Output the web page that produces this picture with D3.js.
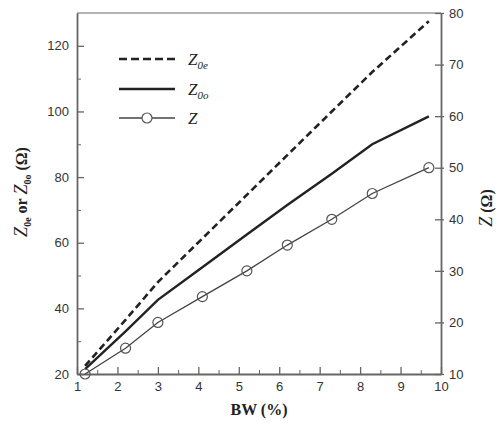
<!DOCTYPE html>
<html>
<head>
<meta charset="utf-8">
<script src="https://cdn.jsdelivr.net/npm/d3@7"></script>
<style>
  body { margin: 0; background: #fff; }
  .tick text { font-family: "Liberation Sans", Arial, sans-serif; font-size: 13px; fill: #333; }
  .title { font-family: "Liberation Serif", "Times New Roman", serif; font-weight: bold; font-size: 16px; fill: #222; }
  .leg { font-family: "Liberation Serif", "Times New Roman", serif; font-style: italic; font-size: 17px; fill: #222; }
</style>
</head>
<body>
<script>
// BW (%) sample points
var bw = [1.2, 2.2, 3.0, 4.1, 5.2, 6.2, 7.3, 8.3, 9.7];
// even / odd mode impedance (left axis, ohm)
var z0e = [22.5, 36.5, 48, 61.3, 74.6, 86.7, 100, 112, 127.5];
var z0o = [21.5, 33, 42.6, 52.5, 62.5, 71.5, 81, 90, 98.5];
// Z (right axis, ohm)
var zz = [10, 15, 20, 25, 30, 35, 40, 45, 50];

var xTicks = [1, 2, 3, 4, 5, 6, 7, 8, 9, 10];
var yLeftTicks = [20, 40, 60, 80, 100, 120];
var yRightTicks = [10, 20, 30, 40, 50, 60, 70, 80];

var W = 498, H = 423;
var m = {left: 77, right: 57, top: 13, bottom: 49};

var svg = d3.select('body').append('svg').attr('width', W).attr('height', H);

var x = d3.scaleLinear().domain([1, 10]).range([m.left, W - m.right]);
var yL = d3.scaleLinear().domain([20, 130]).range([H - m.bottom, m.top]);
var yR = d3.scaleLinear().domain([10, 80]).range([H - m.bottom, m.top]);

var axisColor = '#666';

// frame top line
svg.append('line')
  .attr('x1', x(1)).attr('x2', x(10))
  .attr('y1', yL(130)).attr('y2', yL(130))
  .attr('stroke', '#999').attr('stroke-width', 1.5);

// minor ticks
var gx = svg.append('g').attr('transform', 'translate(0,' + (H - m.bottom) + ')');
gx.call(d3.axisTop(x).tickValues(d3.range(1.5, 10, 1)).tickSize(4).tickFormat(''));
gx.call(function(g) { g.selectAll('.domain').remove(); });
var gx2 = svg.append('g').attr('transform', 'translate(0,' + (H - m.bottom) + ')');
gx2.call(d3.axisBottom(x).tickValues(xTicks).tickSize(0).tickPadding(8));
gx2.selectAll('.tick').append('line').attr('y2', -7).attr('stroke', axisColor).attr('stroke-width', 1.3);

var gl = svg.append('g').attr('transform', 'translate(' + m.left + ',0)');
gl.call(d3.axisLeft(yL).tickValues(yLeftTicks).tickSize(0).tickPadding(8));
gl.selectAll('.tick').append('line').attr('x2', 7).attr('stroke', axisColor).attr('stroke-width', 1.3);
var glm = svg.append('g').attr('transform', 'translate(' + m.left + ',0)');
glm.call(d3.axisRight(yL).tickValues([30, 50, 70, 90, 110]).tickSize(4).tickFormat(''));
glm.select('.domain').remove();

var gr = svg.append('g').attr('transform', 'translate(' + (W - m.right) + ',0)');
gr.call(d3.axisRight(yR).tickValues(yRightTicks).tickSize(0).tickPadding(8));
gr.selectAll('.tick').append('line').attr('x1', -6).attr('x2', 3).attr('stroke', axisColor).attr('stroke-width', 1.3);

svg.selectAll('.domain').attr('stroke', axisColor).attr('stroke-width', 1.8);
svg.selectAll('.tick line').attr('stroke', axisColor);

// series
var lineL = function(vals) {
  return d3.line().x(function(d, i) { return x(bw[i]); }).y(function(d) { return yL(d); })(vals);
};
svg.append('path').attr('d', lineL(z0e)).attr('fill', 'none')
  .attr('stroke', '#222').attr('stroke-width', 2.6).attr('stroke-dasharray', '7,4');
svg.append('path').attr('d', lineL(z0o)).attr('fill', 'none')
  .attr('stroke', '#222').attr('stroke-width', 2.4);
svg.append('path')
  .attr('d', d3.line().x(function(d, i) { return x(bw[i]); }).y(function(d) { return yR(d); })(zz))
  .attr('fill', 'none').attr('stroke', '#444').attr('stroke-width', 1.3);
svg.selectAll('circle.z').data(zz).enter().append('circle').attr('class', 'z')
  .attr('cx', function(d, i) { return x(bw[i]); })
  .attr('cy', function(d) { return yR(d); })
  .attr('r', 5).attr('fill', 'none').attr('stroke', '#555').attr('stroke-width', 1.2);

// legend
var leg = svg.append('g');
leg.append('line').attr('x1', 119).attr('x2', 175).attr('y1', 59).attr('y2', 59)
  .attr('stroke', '#222').attr('stroke-width', 2.6).attr('stroke-dasharray', '8,4');
leg.append('line').attr('x1', 119).attr('x2', 175).attr('y1', 89).attr('y2', 89)
  .attr('stroke', '#222').attr('stroke-width', 2.4);
leg.append('line').attr('x1', 119).attr('x2', 175).attr('y1', 118).attr('y2', 118)
  .attr('stroke', '#444').attr('stroke-width', 1.3);
leg.append('circle').attr('cx', 147).attr('cy', 118).attr('r', 5)
  .attr('fill', '#fff').attr('stroke', '#555').attr('stroke-width', 1.2);

var l1 = leg.append('text').attr('class', 'leg').attr('x', 188).attr('y', 65);
l1.append('tspan').text('Z');
l1.append('tspan').attr('dy', 4).attr('font-size', 11).text('0e');
var l2 = leg.append('text').attr('class', 'leg').attr('x', 188).attr('y', 95);
l2.append('tspan').text('Z');
l2.append('tspan').attr('dy', 4).attr('font-size', 11).text('0o');
leg.append('text').attr('class', 'leg').attr('x', 188).attr('y', 124).text('Z');

// axis titles
svg.append('text').attr('class', 'title').attr('text-anchor', 'middle')
  .attr('x', x(5.5)).attr('y', 415).text('BW (%)');

var tl = svg.append('text').attr('class', 'title').attr('text-anchor', 'middle')
  .attr('transform', 'translate(27,192) rotate(-90)');
tl.append('tspan').attr('font-style', 'italic').attr('font-weight', 'normal').attr('font-size', 18).text('Z');
tl.append('tspan').attr('dy', 4).attr('font-size', 10).text('0e');
tl.append('tspan').attr('dy', -4).text(' or ');
tl.append('tspan').attr('font-style', 'italic').attr('font-weight', 'normal').attr('font-size', 18).text('Z');
tl.append('tspan').attr('dy', 4).attr('font-size', 10).text('0o');
tl.append('tspan').attr('dy', -4).text(' (\u03A9)');

var tr = svg.append('text').attr('class', 'title').attr('text-anchor', 'middle')
  .attr('transform', 'translate(492,208) rotate(-90)');
tr.append('tspan').attr('font-style', 'italic').attr('font-weight', 'normal').attr('font-size', 18).text('Z');
tr.append('tspan').text(' (\u03A9)');
</script>
</body>
</html>
